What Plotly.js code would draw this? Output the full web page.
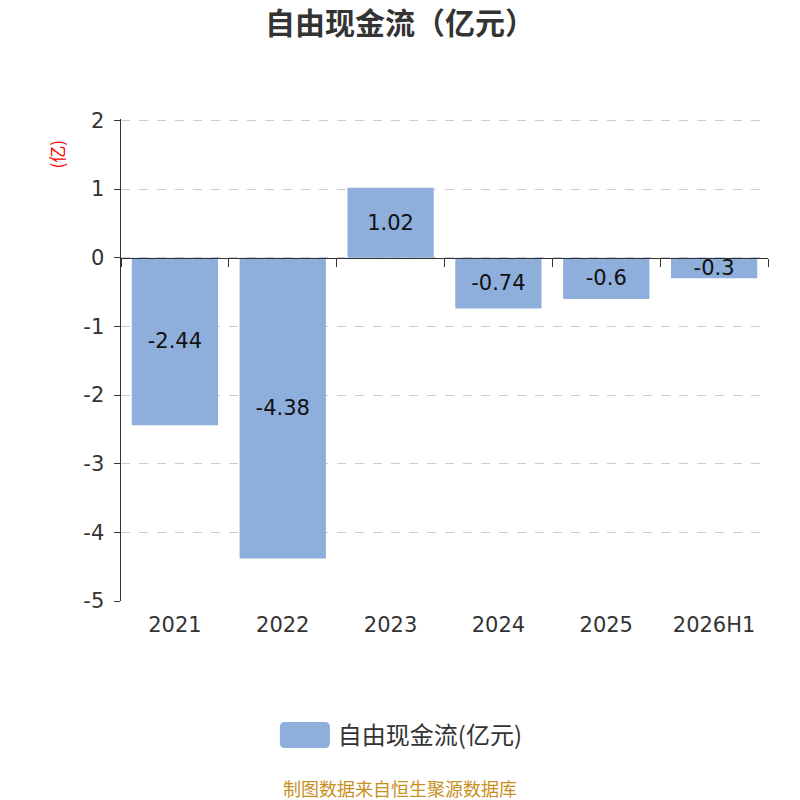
<!DOCTYPE html>
<html>
<head>
<meta charset="utf-8">
<script src="https://cdn.plot.ly/plotly-3.0.1.min.js"></script>
<style>html,body{margin:0;padding:0;background:#fff;}#chart{width:800px;height:800px;}</style>
</head>
<body>
<div id="chart"></div>
<script>
const categories = ["2021", "2022", "2023", "2024", "2025", "2026H1"];
const values = [-2.44, -4.38, 1.02, -0.74, -0.6, -0.3];
const labels = ["-2.44", "-4.38", "1.02", "-0.74", "-0.6", "-0.3"];
const yTicks = [2, 1, 0, -1, -2, -3, -4, -5];
const yTickText = ["2", "1", "0", "-1", "-2", "-3", "-4", "-5"];
const seriesName = "自由现金流(亿元)";

const CJK = '"Noto Sans CJK SC", sans-serif';
const NUM = '"DejaVu Sans", "Noto Sans", sans-serif';

const trace = {
  type: "bar",
  x: categories,
  y: values,
  name: seriesName,
  text: labels,
  textposition: "inside",
  insidetextanchor: "middle",
  constraintext: "none",
  textfont: {family: NUM, size: 21, color: "#111"},
  marker: {color: "#8eaedb"},
  hoverinfo: "x+y",
  showlegend: true
};

const zeroAxisTrace = {
  type: "bar",
  x: categories,
  y: values.map(() => null),
  xaxis: "x2",
  showlegend: false,
  hoverinfo: "skip"
};

const layout = {
  width: 800,
  height: 800,
  paper_bgcolor: "#fff",
  plot_bgcolor: "#fff",
  margin: {l: 121, r: 32, t: 119, b: 199},
  font: {family: NUM, color: "#333"},
  title: {
    text: "<b>自由现金流（亿元）</b>",
    font: {family: CJK, size: 30, color: "#333"},
    x: 0.5, xanchor: "center",
    y: 0.971, yanchor: "middle"
  },
  bargap: 0.2,
  xaxis: {
    type: "category",
    showline: false,
    ticks: "",
    showgrid: false,
    zeroline: false,
    tickfont: {family: NUM, size: 21, color: "#333"},
    ticklabelstandoff: 9
  },
  xaxis2: {
    type: "category",
    overlaying: "x",
    matches: "x",
    anchor: "free",
    position: 5 / 7.02,
    side: "bottom",
    showline: true,
    linecolor: "#333",
    linewidth: 1.5,
    ticks: "outside",
    tickson: "boundaries",
    ticklen: 8,
    tickcolor: "#333",
    showticklabels: false,
    showgrid: false,
    zeroline: false
  },
  yaxis: {
    range: [-5, 2.02],
    tickvals: yTicks,
    ticktext: yTickText,
    showline: true,
    linecolor: "#333",
    linewidth: 1.5,
    ticks: "outside",
    ticklen: 6,
    tickcolor: "#333",
    tickfont: {family: NUM, size: 21, color: "#333"},
    ticklabelstandoff: 5,
    showgrid: true,
    gridcolor: "#ccc",
    griddash: "dash",
    gridwidth: 1,
    zeroline: false
  },
  showlegend: true,
  legend: {
    orientation: "h",
    x: 0.431, xanchor: "center",
    y: -0.279, yanchor: "middle",
    itemwidth: 56,
    font: {family: CJK, size: 24, color: "#333"}
  },
  annotations: [
    {
      text: "(亿)",
      xref: "paper", yref: "paper",
      x: -0.1, y: 0.927,
      xanchor: "center", yanchor: "middle",
      textangle: -90,
      showarrow: false,
      font: {family: CJK, size: 17, color: "#f00"}
    },
    {
      text: "制图数据来自恒生聚源数据库",
      xref: "paper", yref: "paper",
      x: 0.431, y: -0.389,
      xanchor: "center", yanchor: "middle",
      showarrow: false,
      font: {family: CJK, size: 18, color: "#c8901e"}
    }
  ]
};

Plotly.newPlot("chart", [trace, zeroAxisTrace], layout, {displayModeBar: false, staticPlot: true}).then(function (gd) {
  // enlarge legend swatch to a rounded rectangle like the reference
  gd.querySelectorAll(".legend .legendpoints path").forEach(function (p) {
    const w = 25, h = 13, r = 5;
    p.setAttribute("d",
      "M" + (-w + r) + "," + (-h) + "H" + (w - r) + "Q" + w + "," + (-h) + " " + w + "," + (-h + r) +
      "V" + (h - r) + "Q" + w + "," + h + " " + (w - r) + "," + h +
      "H" + (-w + r) + "Q" + (-w) + "," + h + " " + (-w) + "," + (h - r) +
      "V" + (-h + r) + "Q" + (-w) + "," + (-h) + " " + (-w + r) + "," + (-h) + "Z");
    p.style.strokeWidth = "0px";
  });
});
</script>
</body>
</html>
